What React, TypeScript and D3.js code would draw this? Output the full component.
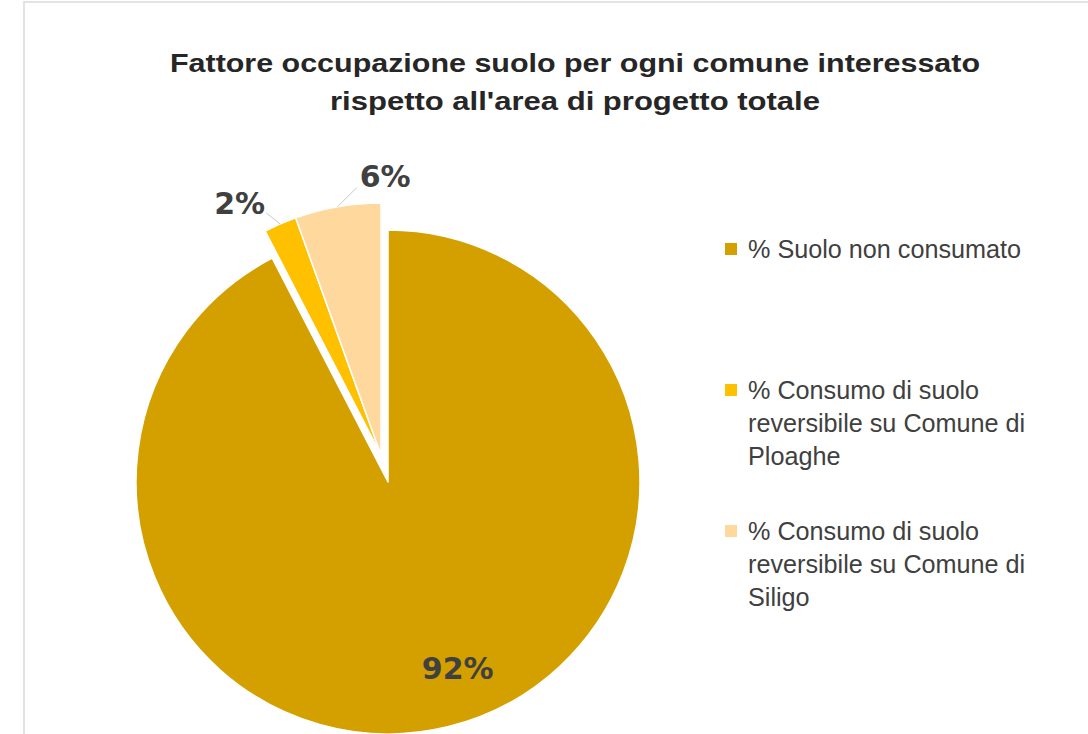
import React from "react";
import * as d3 from "d3";

const categories = [
  "% Suolo non consumato",
  "% Consumo di suolo reversibile su Comune di Ploaghe",
  "% Consumo di suolo reversibile su Comune di Siligo",
];
const values = [92.4, 2.1, 5.5];
const legendLines = [
  ["% Suolo non consumato"],
  ["% Consumo di suolo", "reversibile su Comune di", "Ploaghe"],
  ["% Consumo di suolo", "reversibile su Comune di", "Siligo"],
];
const colors = ["#D3A000", "#FFC000", "#FFD89E"];
const exploded = [false, true, true];
const titleLines = [
  "Fattore occupazione suolo per ogni comune interessato",
  "rispetto all'area di progetto totale",
];

export default function App() {
  const W = 1088;
  const H = 734;
  const cx = 388;
  const cy = 482;
  const r = 252;
  const explodeDist = 28;
  const explodeAngle = -Math.PI * 0.0805; // direction of explosion (clockwise from top)
  const exDx = Math.sin(explodeAngle) * explodeDist;
  const exDy = -Math.cos(explodeAngle) * explodeDist;

  const pie = d3
    .pie<number>()
    .sort(null)
    .value((d) => d)
    .startAngle(0)
    .endAngle(2 * Math.PI);
  const arcs = pie(values);
  const arc = d3.arc<d3.PieArcDatum<number>>().innerRadius(0).outerRadius(r);
  const total = d3.sum(values);

  const pct = (v: number) => `${Math.round((v / total) * 100)}%`;

  const labelArc = d3.arc<d3.PieArcDatum<number>>().innerRadius(r * 0.8).outerRadius(r * 0.8);

  return (
    <svg
      width={W}
      height={H}
      style={{ position: "absolute", left: 0, top: 0, background: "#fff" }}
    >
      <rect x={24} y={2} width={1100} height={800} fill="#fff" stroke="#e3e3e3" strokeWidth={2} />
      {titleLines.map((t, i) => (
        <text
          key={i}
          x={575}
          y={72 + i * 38}
          textAnchor="middle"
          fontFamily="Liberation Sans, Arial, sans-serif"
          fontWeight="bold"
          fontSize={26}
          fill="#262626"
          textLength={i === 0 ? 810 : 490}
          lengthAdjust="spacingAndGlyphs"
        >
          {t}
        </text>
      ))}
      {arcs.map((a, i) => {
        const tx = exploded[i] ? exDx : 0;
        const ty = exploded[i] ? exDy : 0;
        return (
          <g key={i} transform={`translate(${cx + tx},${cy + ty})`}>
            <path d={arc(a) || ""} fill={colors[i]} stroke="#fff" strokeWidth={1.5} strokeLinejoin="round" />
          </g>
        );
      })}
      {arcs.map((a, i) => {
        const tx = exploded[i] ? exDx : 0;
        const ty = exploded[i] ? exDy : 0;
        const mid = (a.startAngle + a.endAngle) / 2;
        const style = {
          fontFamily: "DejaVu Sans, sans-serif",
          fontWeight: "bold" as const,
          fontSize: 30,
          fill: "#404040",
        };
        if (i === 0) {
          const [lx, ly] = labelArc.centroid(a);
          return (
            <text key={i} x={cx + lx + 22} y={cy + ly + 1} textAnchor="middle" {...style}>
              {pct(a.value)}
            </text>
          );
        }
        const ox = cx + tx;
        const oy = cy + ty;
        const sx = ox + Math.sin(mid) * r;
        const sy = oy - Math.cos(mid) * r;
        const lx = i === 1 ? sx - 14 : sx + 19;
        const ly = i === 1 ? sy - 11 : sy - 19;
        return (
          <g key={i}>
            <line x1={sx} y1={sy} x2={lx} y2={ly} stroke="#c8c8c8" strokeWidth={1} />
            <text
              x={i === 1 ? lx - 1 : lx + 3}
              y={i === 1 ? ly + 1 : ly - 1}
              textAnchor={i === 1 ? "end" : "start"}
              {...style}
            >
              {pct(a.value)}
            </text>
          </g>
        );
      })}
      {categories.map((c, i) => {
        const baseY = [258, 399, 540][i];
        return (
          <g key={c}>
            <rect x={725} y={baseY - 15} width={12} height={12} fill={colors[i]} />
            {legendLines[i].map((ln, j) => (
              <text
                key={j}
                x={748}
                y={baseY + j * 33}
                fontFamily="Liberation Sans, Arial, sans-serif"
                fontSize={25.2}
                fill="#404040"
              >
                {ln}
              </text>
            ))}
          </g>
        );
      })}
    </svg>
  );
}
